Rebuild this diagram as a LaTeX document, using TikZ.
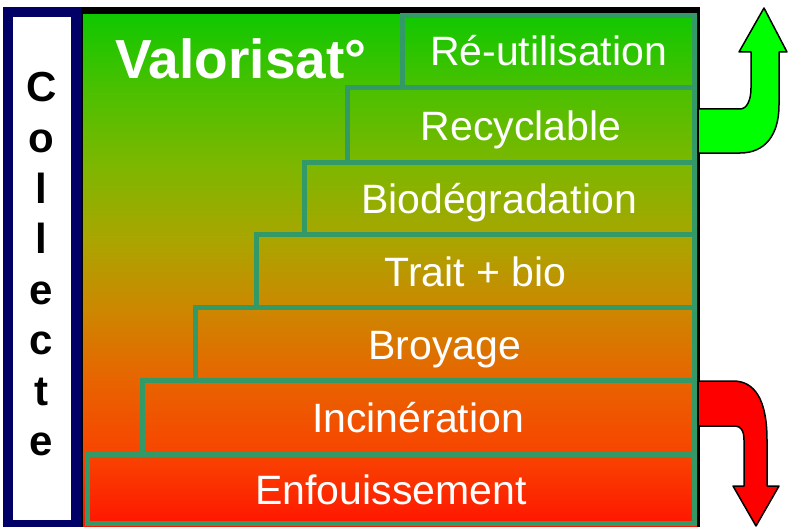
\documentclass[tikz,border=0pt]{standalone}
\usepackage{fontspec}
\setmainfont{Liberation Sans}
\definecolor{navyc}{RGB}{0,0,102}
\definecolor{stepteal}{RGB}{51,153,102}
\definecolor{g0}{RGB}{16,200,0}
\definecolor{g1}{RGB}{75,192,0}
\definecolor{g2}{RGB}{125,183,0}
\definecolor{g3}{RGB}{170,165,0}
\definecolor{g4}{RGB}{205,135,0}
\definecolor{g5}{RGB}{232,100,0}
\definecolor{g6}{RGB}{248,68,0}
\definecolor{g7}{RGB}{255,20,0}
\definecolor{arrgreen}{RGB}{0,255,0}
\definecolor{arrred}{RGB}{255,0,0}
\pgfdeclareverticalshading{valo}{100bp}{color(0bp)=(g7); color(25bp)=(g7); color(32.03bp)=(g6); color(39.36bp)=(g5); color(46.19bp)=(g4); color(53.03bp)=(g3); color(60.35bp)=(g2); color(67.68bp)=(g1); color(75bp)=(g0); color(100bp)=(g0)}
\begin{document}
\begin{tikzpicture}[x=1pt,y=-1pt,
  stepline/.style={draw=stepteal, line width=5pt},
  lbl/.style={text=white, font=\fontsize{41}{41}\selectfont, anchor=base, inner sep=0pt},
  col/.style={font=\bfseries\fontsize{42}{42}\selectfont, anchor=base, inner sep=0pt},
  arrowshape/.style={draw=black, line width=1.5pt, line join=round}]
\useasboundingbox (0,0) rectangle (788,527);
% Collecte column
\draw[draw=navyc, line width=10pt, fill=white] (8,12) rectangle (75.5,525);
\foreach \ch/\yy [count=\i] in {C/102,o/152,l/203,l/253,e/304,c/354,t/405,e/455}
  \node[col] (col\i) at (41.5,\yy) {\ch};
% main frame
\fill[black] (81,7) rectangle (700,527);
\shade[shading=valo] (83,15) rectangle (697,527);
% steps
\draw[stepline] (87,454.5) rectangle (694.5,523);
\draw[stepline] (142,380.5) rectangle (694.5,454.5);
\draw[stepline] (195,307.5) rectangle (694.5,380.5);
\draw[stepline] (256.5,234.5) rectangle (694.5,307.5);
\draw[stepline] (304,162.5) rectangle (694.5,234.5);
\draw[stepline] (347,87.5) rectangle (694.5,162.5);
\draw[stepline] (402.5,15.5) rectangle (694.5,87.5);
% labels
\node[lbl] (s1) at (548.5,66) {Ré-utilisation};
\node[lbl] (s2) at (521,140) {Recyclable};
\node[lbl] (s3) at (499,213) {Biodégradation};
\node[lbl] (s4) at (475.5,286) {Trait + bio};
\node[lbl] (s5) at (445,359) {Broyage};
\node[lbl] (s6) at (418,432) {Incinération};
\node[lbl] (s7) at (391,504) {Enfouissement};
\node[text=white, font=\bfseries\fontsize{55}{55}\selectfont, anchor=base west, inner sep=0pt] (valo) at (115,78) {Valorisat°};
% green arrow
\draw[arrowshape, fill=arrgreen] (698,109) -- (740,109)
  .. controls (747,109) and (751,100) .. (751,88) -- (751,52) -- (739,52) -- (764,8) -- (787,52) -- (779,52) -- (779,105)
  .. controls (779,135) and (765,153) .. (740,153) -- (698,153) -- cycle;
% red arrow
\draw[arrowshape, fill=arrred] (698,381) -- (733,381)
  .. controls (755,381) and (767,400) .. (767,440) -- (767,486) -- (779,486) -- (756,526) -- (733,486) -- (744,486) -- (744,440)
  .. controls (744,431) and (741,426) .. (735,426) -- (698,426) -- cycle;
\end{tikzpicture}
\end{document}
